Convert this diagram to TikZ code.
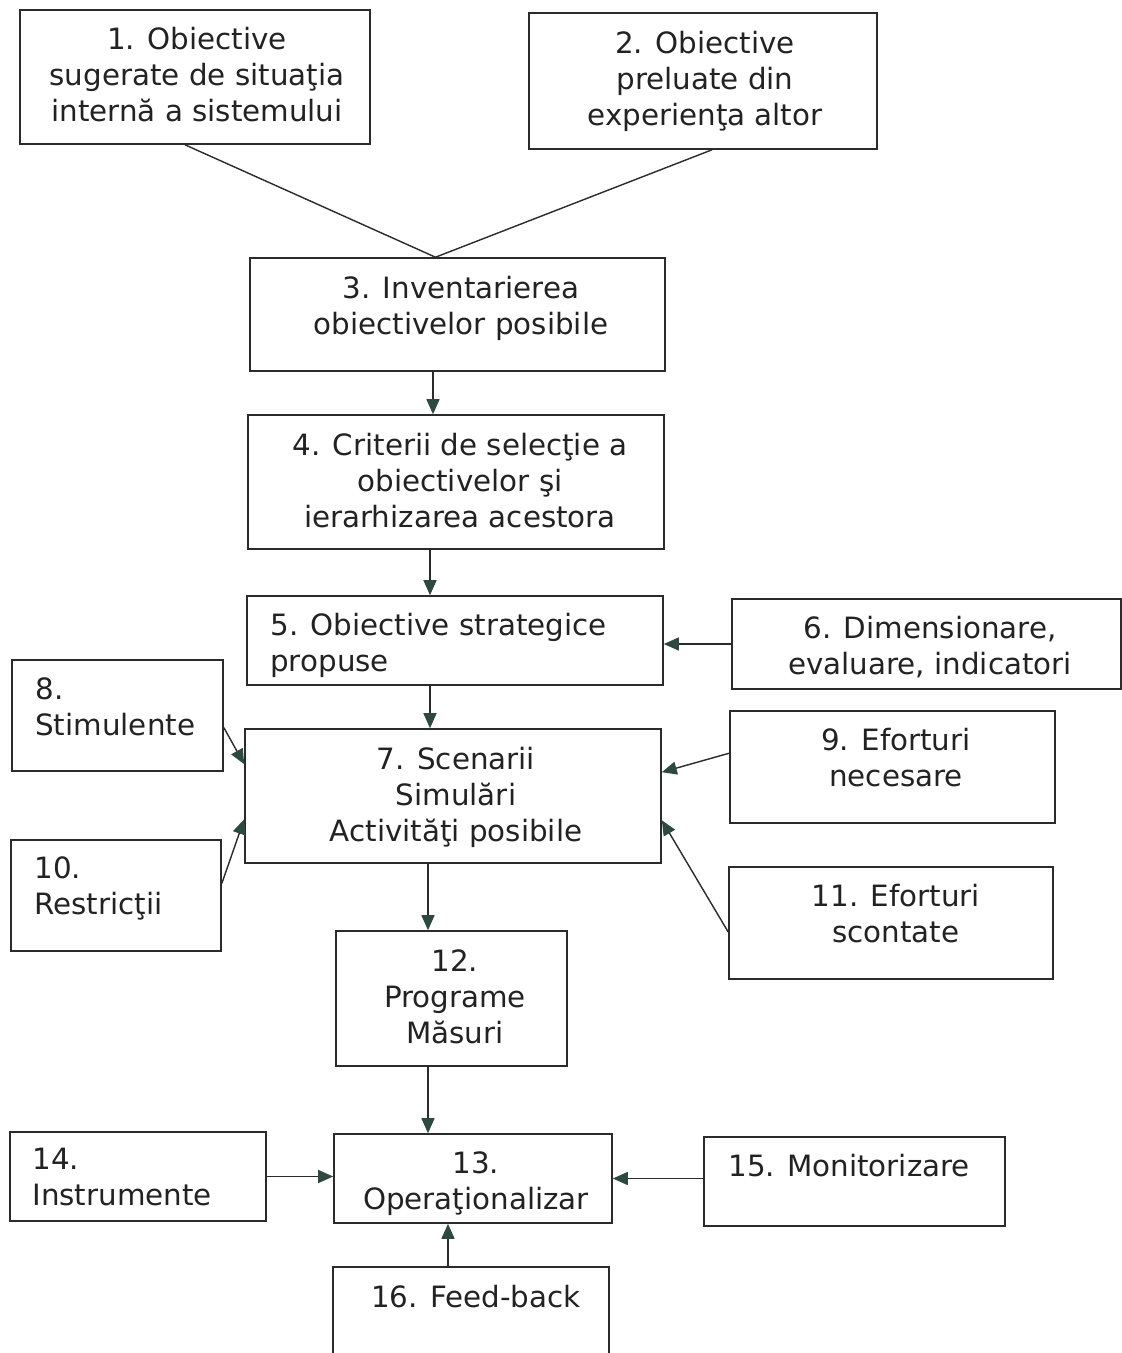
\documentclass[tikz,border=0pt]{standalone}
\usepackage{fontspec}
\setmainfont{DejaVu Sans}
\usetikzlibrary{arrows.meta}
\usetikzlibrary{calc}
\usetikzlibrary{fit}
\definecolor{linegrey}{HTML}{2B2B2B}
\definecolor{tipgreen}{HTML}{2E4A40}
\definecolor{textgrey}{HTML}{222222}

\begin{document}
\begin{tikzpicture}[x=0.02cm, y=-0.02cm,
        box/.style={draw=linegrey, line width=0.9pt, inner sep=0pt},
        txt/.style={inner sep=0pt, align=center, anchor=north, text=textgrey,
            font=\fontsize{16.7}{20.5}\selectfont},
        ltxt/.style={txt, align=left, anchor=north west},
        link/.style={draw=linegrey, line width=0.8pt},
        arr/.style={link, -{Triangle[length=0.3cm, width=0.26cm, color=tipgreen]}}]
            \clip (0,0) rectangle (1122,1353);
            \fill[white] (0,0) rectangle (1122,1353);

            \node[box, fit={(20,10) (370,144)}] (b1) {};
            \node[box, fit={(529,13) (877,149)}] (b2) {};
            \node[box, fit={(250,258) (665,371)}] (b3) {};
            \node[box, fit={(248,415) (664,549)}] (b4) {};
            \node[box, fit={(247,596) (663,685)}] (b5) {};
            \node[box, fit={(732,599) (1121,689)}] (b6) {};
            \node[box, fit={(245,729) (661,863)}] (b7) {};
            \node[box, fit={(12,660) (223,771)}] (b8) {};
            \node[box, fit={(730,711) (1055,823)}] (b9) {};
            \node[box, fit={(11,840) (221,951)}] (b10) {};
            \node[box, fit={(729,867) (1053,979)}] (b11) {};
            \node[box, fit={(336,931) (567,1066)}] (b12) {};
            \node[box, fit={(334,1134) (612,1223)}] (b13) {};
            \node[box, fit={(10,1132) (266,1221)}] (b14) {};
            \node[box, fit={(704,1137) (1005,1226)}] (b15) {};
            \node[box, fit={(333,1267) (609,1420)}] (b16) {};

            \node[txt] (t1) at (197,27) {1. Obiective\\sugerate de situaţia\\internă a sistemului};
            \node[txt] (t2) at (705,31) {2. Obiective\\preluate din\\experienţa altor};
            \node[txt] (t3) at (461,276) {3. Inventarierea\\obiectivelor posibile};
            \node[txt] (t4) at (460,433) {4. Criterii de selecţie a\\obiectivelor şi\\ierarhizarea acestora};
            \node[ltxt] (t5) at (270,613) {5. Obiective strategice\\propuse};
            \node[txt] (t6) at (930,616) {6. Dimensionare,\\evaluare, indicatori};
            \node[txt] (t7) at (456,747) {7. Scenarii\\Simulări\\Activităţi posibile};
            \node[ltxt] (t8) at (35,677) {8.\\Stimulente};
            \node[txt] (t9) at (896,728) {9. Eforturi\\necesare};
            \node[ltxt] (t10) at (34,856) {10.\\Restricţii};
            \node[txt] (t11) at (896,884) {11. Eforturi\\scontate};
            \node[txt] (t12) at (455,949) {12.\\Programe\\Măsuri};
            \node[txt] (t13) at (476,1151) {13.\\Operaţionalizar};
            \node[ltxt] (t14) at (32,1148) {14.\\Instrumente};
            \node[ltxt] (t15) at (728,1154) {15. Monitorizare};
            \node[txt] (t16) at (476,1285) {16. Feed-back};

            \coordinate (c1) at (433,0);
            \coordinate (c2) at (430,0);
            \coordinate (c3) at (428,0);
            \coordinate (c4) at (448,0);

            \draw[link] ($(b1.south)+(-10,0)$) -- ($(b3.north)+(-22,0)$);
            \draw[link] ($(b2.south)+(9,0)$) -- ($(b3.north)+(-22,0)$);
            \draw[arr] (b3.south -| c1) -- (b4.north -| c1);
            \draw[arr] (b4.south -| c2) -- (b5.north -| c2);
            \draw[arr] (b6.west) -- (b6.west -| b5.east);
            \draw[arr] (b5.south -| c2) -- (b7.north -| c2);
            \draw[arr] ($(b8.east)+(0,12)$) -- ($(b7.north west)+(0,36)$);
            \draw[arr] ($(b10.east)+(0,-12)$) -- ($(b7.north west)+(0,91)$);
            \draw[arr] ($(b9.north west)+(0,43)$) -- ($(b7.north east)+(0,44)$);
            \draw[arr] ($(b11.west)+(0,9)$) -- ($(b7.north east)+(0,92)$);
            \draw[arr] (b7.south -| c3) -- (b12.north -| c3);
            \draw[arr] (b12.south -| c3) -- (b13.north -| c3);
            \draw[arr] (b14.east) -- (b14.east -| b13.west);
            \draw[arr] (b13.east -| b15.west) -- (b13.east);
            \draw[arr] (b16.north -| c4) -- (b13.south -| c4);
        \end{tikzpicture}
\end{document}
